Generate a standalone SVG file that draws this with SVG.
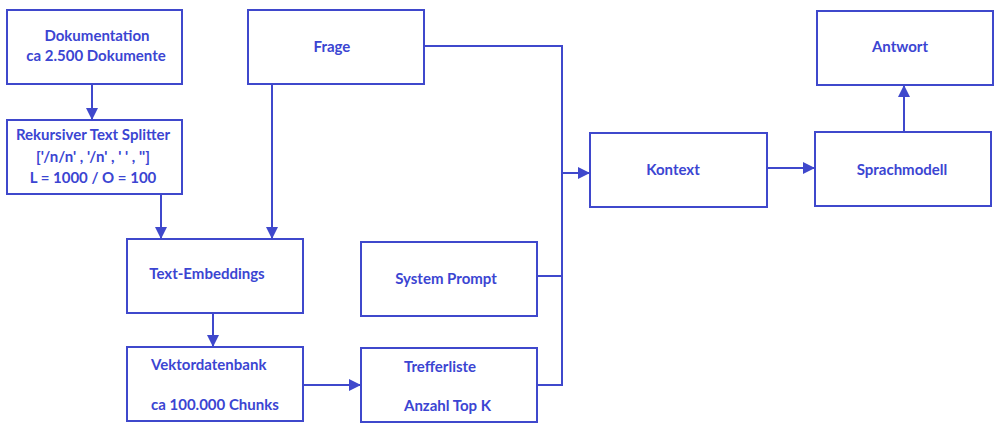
<svg xmlns="http://www.w3.org/2000/svg" width="1000" height="432" viewBox="0 0 1000 432">
<style>
.box{fill:#fff;stroke:#3f48cc;stroke-width:2}
.t{font-family:Lato,"Open Sans",sans-serif;font-weight:bold;font-size:15px;fill:#3b45d2}
.c{text-anchor:middle}
.ln{fill:none;stroke:#3f48cc;stroke-width:2}
</style>
<defs>
<marker id="ah" viewBox="0 0 12 12" refX="12" refY="6" markerWidth="12" markerHeight="12" markerUnits="userSpaceOnUse" orient="auto">
<path d="M0,0 L12,6 L0,12 Z" fill="#3f48cc"/>
</marker>
</defs>
<rect width="1000" height="432" fill="#fff"/>
<g id="connectors">
<path class="ln" d="M92,84 V120" marker-end="url(#ah)"/>
<path class="ln" d="M161,194 V239" marker-end="url(#ah)"/>
<path class="ln" d="M272,84 V239" marker-end="url(#ah)"/>
<path class="ln" d="M213,313 V347" marker-end="url(#ah)"/>
<path class="ln" d="M303,385 H361" marker-end="url(#ah)"/>
<path class="ln" d="M424,46 H562 V385 H537"/>
<path class="ln" d="M537,276 H562"/>
<path class="ln" d="M562,173 H590" marker-end="url(#ah)"/>
<path class="ln" d="M767,168 H815" marker-end="url(#ah)"/>
<path class="ln" d="M904,132 V85" marker-end="url(#ah)"/>
</g>
<g id="dokumentation"><rect class="box" x="7" y="10" width="175" height="74"/>
<text class="t c" x="97" y="41">Dokumentation</text><text class="t c" x="96" y="61">ca 2.500 Dokumente</text></g>
<g id="splitter"><rect class="box" x="7" y="120" width="175" height="74"/>
<text class="t c" x="93" y="140">Rekursiver Text Splitter</text><text class="t c" x="93" y="162">['/n/n' , '/n' , ' ' , '']</text><text class="t c" x="93" y="183">L = 1000 / O = 100</text></g>
<g id="frage"><rect class="box" x="248" y="10" width="176" height="74"/>
<text class="t c" x="332" y="52">Frage</text></g>
<g id="embeddings"><rect class="box" x="127" y="239" width="176" height="74"/>
<text class="t c" x="207" y="279">Text-Embeddings</text></g>
<g id="vektordatenbank"><rect class="box" x="127" y="347" width="176" height="74"/>
<text class="t" x="151" y="370">Vektordatenbank</text><text class="t" x="151" y="410">ca 100.000 Chunks</text></g>
<g id="systemprompt"><rect class="box" x="361" y="242" width="176" height="74"/>
<text class="t c" x="446" y="284">System Prompt</text></g>
<g id="trefferliste"><rect class="box" x="361" y="348" width="176" height="74"/>
<text class="t" x="404" y="372">Trefferliste</text><text class="t" x="404" y="411">Anzahl Top K</text></g>
<g id="kontext"><rect class="box" x="590" y="133" width="177" height="74"/>
<text class="t c" x="673" y="175">Kontext</text></g>
<g id="sprachmodell"><rect class="box" x="815" y="132" width="176" height="74"/>
<text class="t c" x="902" y="175">Sprachmodell</text></g>
<g id="antwort"><rect class="box" x="817" y="11" width="176" height="74"/>
<text class="t c" x="900" y="52">Antwort</text></g>
</svg>
